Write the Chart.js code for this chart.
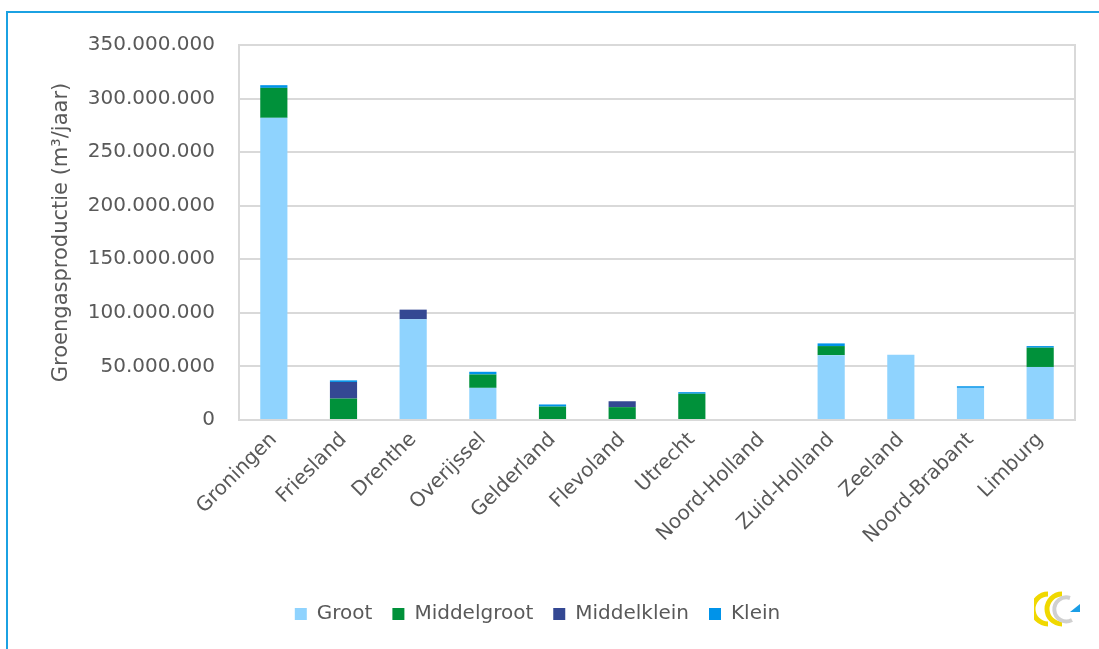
<!DOCTYPE html>
<html lang="nl">
  <head>
    <meta charset="UTF-8" />
    <title>Groengasproductie per provincie</title>
    <style>
      body { margin: 0; background: #ffffff; }
      .frame {
        position: absolute; left: 6px; top: 11px; right: -4px; bottom: -4px;
        border-left: 2px solid #1ba1e2; border-top: 2px solid #1ba1e2;
      }
      #chart { position: absolute; left: 0; top: 0; }
      .logo { position: absolute; left: 1034px; top: 590px; }
    </style>
  </head>
  <body>
    <div class="frame"></div>
    <canvas id="chart" width="1099" height="649"></canvas>
    <!-- klein logo rechtsonder -->
    <svg class="logo" width="52" height="40" viewBox="0 0 52 40">
      <path d="M14 4 A14 14 0 1 0 14 34" fill="none" stroke="#f0d800" stroke-width="5" />
      <path d="M28 4 A14 14 0 1 0 28 34" fill="none" stroke="#f0d800" stroke-width="5" />
      <path d="M36 8 A12 12 0 1 0 38 30" fill="none" stroke="#d0d0d0" stroke-width="4" />
      <polygon points="36,22 46,14 46,22" fill="#1b9ee6" />
    </svg>

    <script src="https://cdn.jsdelivr.net/npm/chart.js"></script>
    <script>
      // Data (m3/jaar)
      const provincies = [
        "Groningen", "Friesland", "Drenthe", "Overijssel", "Gelderland", "Flevoland",
        "Utrecht", "Noord-Holland", "Zuid-Holland", "Zeeland", "Noord-Brabant", "Limburg",
      ];
      const groot = [282000000, 0, 94000000, 30000000, 0, 0, 0, 0, 60500000, 61000000, 30000000, 49500000];
      const middelgroot = [28000000, 20000000, 0, 12500000, 12500000, 12000000, 24500000, 0, 8500000, 0, 0, 18000000];
      const middelklein = [0, 15500000, 9000000, 0, 0, 5500000, 0, 0, 0, 0, 0, 0];
      const klein = [2500000, 1500000, 0, 2500000, 2000000, 0, 1500000, 0, 2500000, 0, 1500000, 1500000];
      const yTicks = [0, 50000000, 100000000, 150000000, 200000000, 250000000, 300000000, 350000000];

      const tekstKleur = "#595959";
      const lijnKleur = "#d9d9d9";

      // punt als duizendtal-scheiding
      function formatNL(v) {
        return String(Math.round(v)).replace(/\B(?=(\d{3})+(?!\d))/g, ".");
      }

      // rand rond het plotgebied
      const plotRand = {
        id: "plotRand",
        afterDraw(chart) {
          const a = chart.chartArea;
          const c = chart.ctx;
          c.save();
          c.strokeStyle = lijnKleur;
          c.lineWidth = 2;
          c.strokeRect(a.left, a.top, a.right - a.left, a.bottom - a.top);
          c.restore();
        },
      };

      function serie(label, data, kleur) {
        return {
          label: label,
          data: data,
          backgroundColor: kleur,
          borderWidth: 0,
          barPercentage: 0.39,
          categoryPercentage: 1,
        };
      }

      Chart.defaults.font.family = "'DejaVu Sans', sans-serif";
      Chart.defaults.color = tekstKleur;

      const ctx = document.getElementById("chart").getContext("2d");
      const chart = new Chart(ctx, {
        type: "bar",
        data: {
          labels: provincies,
          datasets: [
            serie("Groot", groot, "#8fd3fe"),
            serie("Middelgroot", middelgroot, "#00913a"),
            serie("Middelklein", middelklein, "#344893"),
            serie("Klein", klein, "#0093e9"),
          ],
        },
        options: {
          responsive: false,
          animation: false,
          layout: { padding: { left: 0, right: 24, top: 45, bottom: 15 } },
          plugins: {
            legend: {
              position: "bottom",
              labels: {
                boxWidth: 12,
                boxHeight: 12,
                padding: 20,
                font: { size: 20 },
                color: tekstKleur,
              },
            },
            tooltip: { enabled: false },
          },
          scales: {
            x: {
              stacked: true,
              grid: { display: false },
              border: { display: false },
              ticks: {
                minRotation: 45,
                maxRotation: 45,
                padding: 0,
                font: { size: 20 },
                color: tekstKleur,
              },
              afterFit(scale) {
                scale.height = 164;
              },
            },
            y: {
              stacked: true,
              min: 0,
              max: 350000000,
              afterBuildTicks(scale) {
                scale.ticks = yTicks.map((v) => ({ value: v }));
              },
              grid: { color: lijnKleur, lineWidth: 2, drawTicks: false },
              border: { display: false },
              ticks: {
                padding: 24,
                font: { size: 20 },
                color: tekstKleur,
                callback: (v) => formatNL(v),
              },
              title: {
                display: true,
                text: "Groengasproductie (m³/jaar)",
                font: { size: 21 },
                color: tekstKleur,
                padding: { top: 49, bottom: 0 },
              },
              afterFit(scale) {
                scale.width = 239;
              },
            },
          },
        },
        plugins: [plotRand],
      });
    </script>
  </body>
</html>
